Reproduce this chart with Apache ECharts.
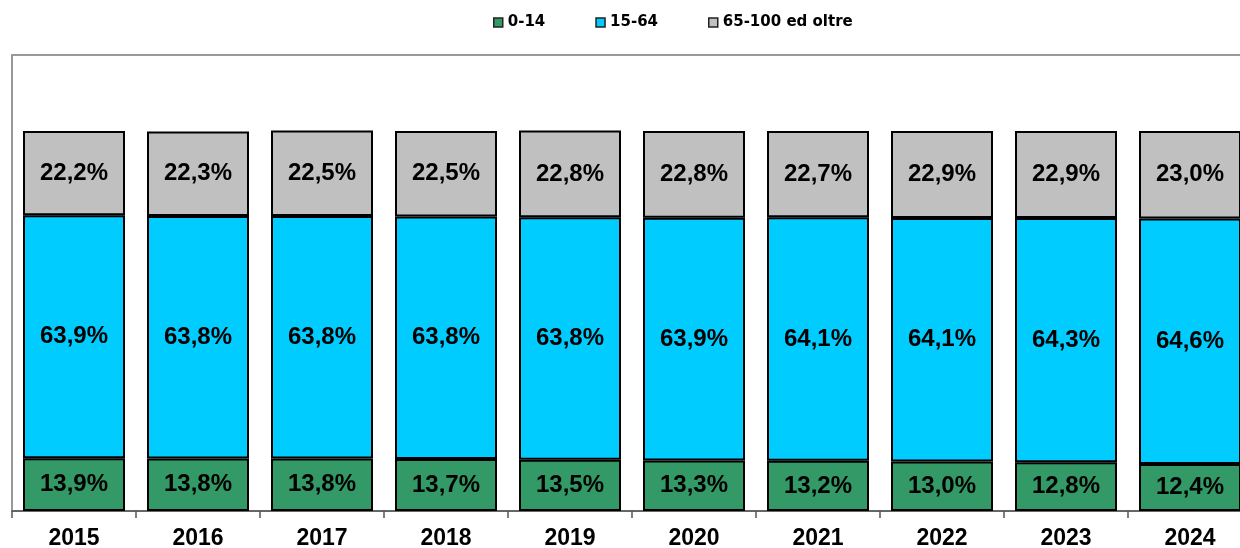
<!DOCTYPE html>
<html lang="it">
<head>
    <meta charset="UTF-8">
    <title>Popolazione per classi di età</title>
    <script src="https://cdn.jsdelivr.net/npm/echarts@6/dist/echarts.min.js"></script>
    <style>
        html, body { margin: 0; padding: 0; background: #fff; }
    </style>
</head>
<body>
    <div id="main" style="width: 1240px;height:548px;"></div>

    <script type="text/javascript">
        // dati
        var anni = ['2015', '2016', '2017', '2018', '2019', '2020', '2021', '2022', '2023', '2024'];
        var giovani = [13.9, 13.8, 13.8, 13.7, 13.5, 13.3, 13.2, 13.0, 12.8, 12.4];
        var adulti = [63.9, 63.8, 63.8, 63.8, 63.8, 63.9, 64.1, 64.1, 64.3, 64.6];
        var anziani = [22.2, 22.3, 22.5, 22.5, 22.8, 22.8, 22.7, 22.9, 22.9, 23.0];

        var nomi = ['0-14', '15-64', '65-100 ed oltre'];
        var colori = ['#339966', '#00CCFF', '#C0C0C0'];

        function etichetta(p) {
            return p.value.toFixed(1).replace('.', ',') + '%';
        }

        function serie(nome, dati, colore) {
            return {
                name: nome,
                type: 'bar',
                stack: 'tot',
                barWidth: 102,
                data: dati,
                itemStyle: { color: colore, borderColor: '#000', borderWidth: 2 },
                label: {
                    show: true,
                    position: 'inside',
                    formatter: etichetta,
                    color: '#000',
                    fontFamily: 'Liberation Sans, Arial, sans-serif',
                    fontWeight: 'bold',
                    fontSize: 24
                }
            };
        }

        var myChart = echarts.init(document.getElementById('main'));
        myChart.setOption({
            animation: false,
            legend: {
                data: nomi,
                top: 10,
                left: 488,
                icon: 'rect',
                itemWidth: 9,
                itemHeight: 9,
                itemGap: 50,
                itemStyle: { borderColor: '#222', borderWidth: 1.5 },
                textStyle: {
                    fontFamily: 'DejaVu Sans, sans-serif',
                    fontWeight: 'bold',
                    fontSize: 15,
                    color: '#000'
                }
            },
            grid: {
                left: 12,
                top: 55,
                right: -12,
                bottom: 37,
                outerBoundsMode: 'none',
                containLabel: false,
                show: true,
                borderColor: '#999',
                borderWidth: 2
            },
            xAxis: [{
                type: 'category',
                data: anni,
                position: 'bottom',
                axisLine: { lineStyle: { color: '#555', width: 1.5 } },
                axisTick: { show: true, length: 7, lineStyle: { color: '#555', width: 1.5 } },
                axisLabel: {
                    margin: 16,
                    color: '#000',
                    fontFamily: 'Liberation Sans, Arial, sans-serif',
                    fontWeight: 'bold',
                    fontSize: 23
                }
            }, {
                type: 'category',
                data: anni,
                position: 'bottom',
                axisLine: { show: false },
                axisTick: { show: true, inside: true, alignWithLabel: true, length: 5, lineStyle: { color: '#555', width: 1.5 } },
                axisLabel: { show: false }
            }],
            yAxis: {
                type: 'value',
                min: 0,
                max: 120,
                show: false,
                splitLine: { show: false }
            },
            series: [
                serie(nomi[0], giovani, colori[0]),
                serie(nomi[1], adulti, colori[1]),
                serie(nomi[2], anziani, colori[2])
            ]
        });
    </script>
</body>
</html>
